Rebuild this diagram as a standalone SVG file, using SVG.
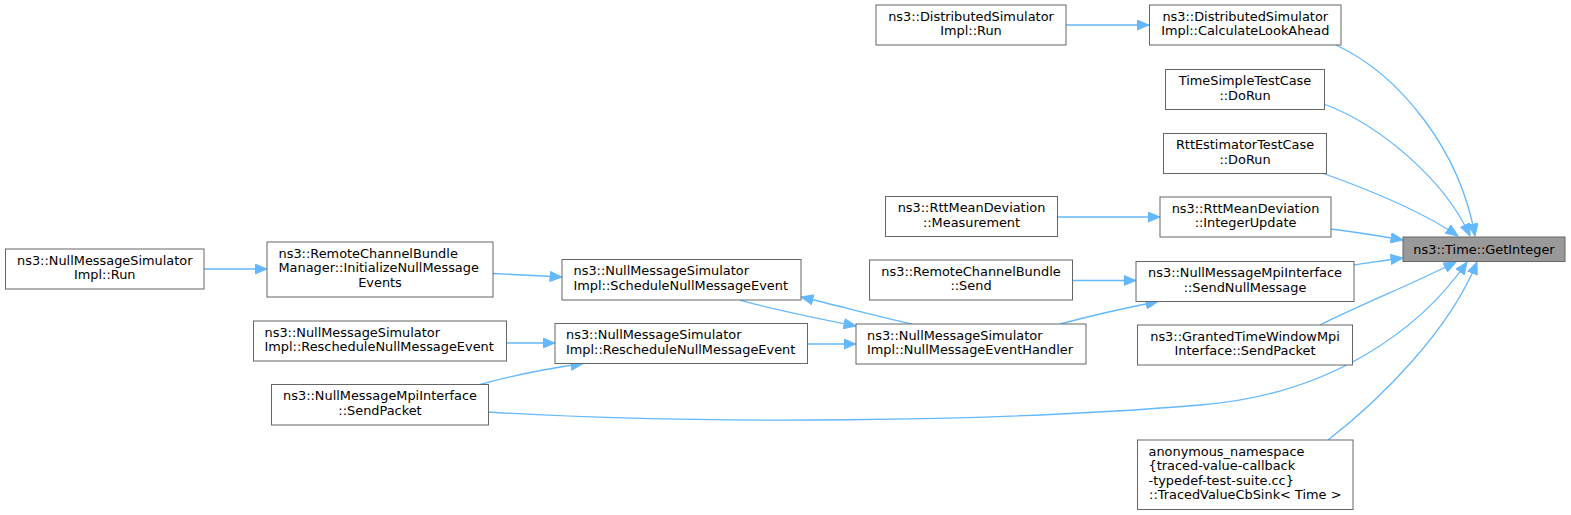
<svg xmlns="http://www.w3.org/2000/svg" width="1571" height="515" viewBox="0 0 1571 515">
<style>
.box{fill:#ffffff;stroke:#666666;stroke-width:1}
.hl{fill:#999999;stroke:#666666;stroke-width:1}
text{font-family:"DejaVu Sans","Liberation Sans",sans-serif;font-size:12.9px;fill:#000000}
.c{text-anchor:middle}
.l{text-anchor:start}
.e{fill:none;stroke:#63b8ff;stroke-width:1.3;marker-end:url(#ah)}
</style>
<defs>
<marker id="ah" markerUnits="userSpaceOnUse" markerWidth="13" markerHeight="11" viewBox="0 0 13 11" refX="12.5" refY="5.5" orient="auto">
<path d="M0.5,0.5 L12.5,5.5 L0.5,10.5 z" fill="#63b8ff" stroke="#63b8ff" stroke-width="1"/>
</marker>
</defs>
<rect width="1571" height="515" fill="#ffffff"/>
<g id="edges">
<path class="e" d="M1066,25 L1149,25"/>
<path class="e" d="M1336,45 C1400,75 1460,150 1475,236"/>
<path class="e" d="M1324,104 C1380,125 1445,180 1470,236"/>
<path class="e" d="M1322,173 C1370,190 1420,210 1458,236"/>
<path class="e" d="M1057,217 L1160,217"/>
<path class="e" d="M1331,229 C1355,232 1380,236 1403,240"/>
<path class="e" d="M1072,280.5 L1136,280.5"/>
<path class="e" d="M1354,265 C1370,263 1385,260 1403,258"/>
<path class="e" d="M1060,324 C1090,316 1125,308 1158,301.5"/>
<path class="e" d="M1320,325 C1360,305 1410,285 1456,262"/>
<path class="e" d="M488,412 C700,425 1000,422 1200,405 C1330,395 1420,330 1467,262"/>
<path class="e" d="M1328,440 C1380,400 1450,330 1477,262"/>
<path class="e" d="M912,324 C875,316 840,306 801,297"/>
<path class="e" d="M740,300 C775,310 815,318 856,326"/>
<path class="e" d="M807.5,344 L856,344"/>
<path class="e" d="M506.5,343 L555,343"/>
<path class="e" d="M480,384.5 C510,376 545,369 583,363.5"/>
<path class="e" d="M493,273.5 C515,274.5 540,276 562,277"/>
<path class="e" d="M204,269 L267,269"/>
</g>
<g id="n1"><rect class="box" x="876" y="5" width="190" height="40"/><text class="c" x="971" y="20.8">ns3::DistributedSimulator</text><text class="c" x="971" y="35.3">Impl::Run</text></g>
<g id="n2"><rect class="box" x="1149.5" y="5" width="191.5" height="40"/><text class="c" x="1245.25" y="20.8">ns3::DistributedSimulator</text><text class="c" x="1245.25" y="35.3">Impl::CalculateLookAhead</text></g>
<g id="n3"><rect class="box" x="1165.5" y="69.5" width="159" height="40"/><text class="c" x="1245" y="85.3">TimeSimpleTestCase</text><text class="c" x="1245" y="99.8">::DoRun</text></g>
<g id="n4"><rect class="box" x="1163.5" y="133.5" width="163" height="40"/><text class="c" x="1245" y="149.3">RttEstimatorTestCase</text><text class="c" x="1245" y="163.8">::DoRun</text></g>
<g id="n5"><rect class="box" x="885.5" y="196.5" width="172" height="40"/><text class="c" x="971.5" y="212.3">ns3::RttMeanDeviation</text><text class="c" x="971.5" y="226.8">::Measurement</text></g>
<g id="n6"><rect class="box" x="1160" y="197" width="171" height="40"/><text class="c" x="1245.5" y="212.8">ns3::RttMeanDeviation</text><text class="c" x="1245.5" y="227.3">::IntegerUpdate</text></g>
<g id="n7"><rect class="box" x="869.5" y="260" width="203" height="40"/><text class="c" x="971" y="275.8">ns3::RemoteChannelBundle</text><text class="c" x="971" y="290.3">::Send</text></g>
<g id="n8"><rect class="box" x="1136" y="261.5" width="218" height="40"/><text class="c" x="1245" y="277.3">ns3::NullMessageMpiInterface</text><text class="c" x="1245" y="291.8">::SendNullMessage</text></g>
<g id="n9"><rect class="box" x="856" y="324" width="230" height="40"/><text class="l" x="867" y="339.8">ns3::NullMessageSimulator</text><text class="l" x="867" y="354.3">Impl::NullMessageEventHandler</text></g>
<g id="n10"><rect class="box" x="1137.5" y="325" width="215" height="40"/><text class="c" x="1245" y="340.8">ns3::GrantedTimeWindowMpi</text><text class="c" x="1245" y="355.3">Interface::SendPacket</text></g>
<g id="n11"><rect class="box" x="1137.5" y="440" width="215.5" height="69.5"/><text class="l" x="1148.5" y="455.8">anonymous_namespace</text><text class="l" x="1148.5" y="470.3">{traced-value-callback</text><text class="l" x="1148.5" y="484.8">-typedef-test-suite.cc}</text><text class="c" x="1245.25" y="499.3">::TracedValueCbSink&lt; Time &gt;</text></g>
<g id="n12"><rect class="box" x="5.5" y="249" width="198.5" height="40"/><text class="c" x="104.75" y="264.8">ns3::NullMessageSimulator</text><text class="c" x="104.75" y="279.3">Impl::Run</text></g>
<g id="n13"><rect class="box" x="267" y="242" width="226" height="55"/><text class="l" x="278.5" y="257.8">ns3::RemoteChannelBundle</text><text class="l" x="278.5" y="272.3">Manager::InitializeNullMessage</text><text class="c" x="380" y="286.8">Events</text></g>
<g id="n14"><rect class="box" x="562" y="259.5" width="239" height="40.5"/><text class="l" x="573.5" y="275.3">ns3::NullMessageSimulator</text><text class="l" x="573.5" y="289.8">Impl::ScheduleNullMessageEvent</text></g>
<g id="n15"><rect class="box" x="253.5" y="321" width="253" height="40"/><text class="l" x="264.5" y="336.8">ns3::NullMessageSimulator</text><text class="l" x="264.5" y="351.3">Impl::RescheduleNullMessageEvent</text></g>
<g id="n16"><rect class="box" x="555" y="323.5" width="252.5" height="40"/><text class="l" x="566" y="339.3">ns3::NullMessageSimulator</text><text class="l" x="566" y="353.8">Impl::RescheduleNullMessageEvent</text></g>
<g id="n17"><rect class="box" x="271.5" y="384.5" width="217" height="40.5"/><text class="c" x="380" y="400.3">ns3::NullMessageMpiInterface</text><text class="c" x="380" y="414.8">::SendPacket</text></g>
<g id="n18"><rect class="hl" x="1403" y="237" width="162" height="24.5"/><text class="c" x="1484" y="254">ns3::Time::GetInteger</text></g>
</svg>
